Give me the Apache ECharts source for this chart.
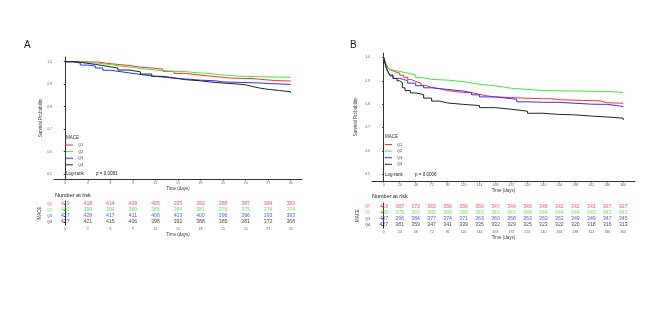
<!DOCTYPE html>
<html>
<head>
<meta charset="utf-8">
<script src="https://cdn.jsdelivr.net/npm/echarts@6/dist/echarts.min.js"></script>
<style>
  html, body { margin: 0; padding: 0; background: #fff; }
  #chart { width: 669px; height: 327px; }
</style>
</head>
<body>
<div id="chart"></div>
<script>
// ---- data ----
const groups = ['Q1', 'Q2', 'Q3', 'Q4'];
const colors = ['#ff2f2f', '#3ee83e', '#2f2fff', '#222222'];
const yTicks = [0.5, 0.6, 0.7, 0.8, 0.9, 1.0];

// panel A (30 days)
const ticksA = [0, 3, 6, 9, 12, 15, 18, 21, 24, 27, 30];
const survA_Q1 = [[0,1],[1.5,0.998],[4.5,0.993],[5.5,0.988],[7,0.983],[8.5,0.976],[10,0.972],[11.5,0.967],[13,0.957],[14.5,0.948],[16,0.942],[17.5,0.937],[19,0.932],[20.5,0.927],[22,0.925],[25,0.92],[26.5,0.916],[28,0.914],[30,0.914]];
const survA_Q2 = [[0,1],[2,0.996],[3,0.993],[4.5,0.987],[6,0.98],[7.5,0.975],[9,0.968],[10.5,0.963],[12,0.958],[14,0.956],[16,0.951],[17.5,0.948],[19,0.942],[20.5,0.936],[23,0.933],[26,0.931],[30,0.93]];
const survA_Q3 = [[0,1],[1,0.994],[2,0.985],[3,0.981],[4,0.972],[5,0.962],[6,0.955],[7.5,0.948],[9,0.941],[10.5,0.935],[12,0.93],[13.5,0.925],[15,0.922],[16.5,0.918],[18,0.915],[20,0.91],[21,0.906],[25.5,0.903],[27,0.899],[30,0.899]];
const survA_Q4 = [[0,1],[1.5,0.995],[2.5,0.988],[4,0.983],[5,0.977],[6,0.972],[7,0.963],[8.5,0.955],[10,0.945],[11.5,0.935],[13,0.928],[14.5,0.92],[16,0.915],[18,0.909],[19.5,0.905],[21,0.902],[22.5,0.897],[24,0.889],[25,0.882],[26,0.877],[27,0.872],[28.5,0.866],[30,0.862]];
const riskA_Q1 = [419, 418, 414, 409, 405, 395, 392, 388, 387, 384, 383];
const riskA_Q2 = [402, 399, 394, 389, 385, 384, 381, 376, 375, 374, 374];
const riskA_Q3 = [437, 429, 417, 411, 406, 403, 400, 396, 396, 393, 393];
const riskA_Q4 = [427, 421, 415, 406, 398, 392, 388, 385, 381, 372, 368];

// panel B (360 days)
const ticksB = [0, 24, 48, 72, 96, 120, 144, 168, 192, 216, 240, 264, 288, 312, 336, 360];
const survB_Q1 = [[0,1],[2,0.985],[4,0.97],[6,0.958],[9,0.948],[12,0.94],[16,0.933],[24,0.924],[30,0.915],[36,0.905],[42,0.897],[48,0.89],[56,0.88],[64,0.872],[72,0.866],[84,0.858],[96,0.85],[120,0.849],[132,0.842],[144,0.835],[156,0.831],[168,0.828],[192,0.826],[210,0.823],[240,0.823],[252,0.819],[264,0.816],[300,0.815],[312,0.814],[325,0.806],[336,0.804],[360,0.804]];
const survB_Q2 = [[0,1],[2,0.98],[4,0.965],[7,0.952],[10,0.945],[15,0.94],[24,0.933],[36,0.925],[48,0.913],[60,0.906],[72,0.903],[96,0.896],[120,0.891],[132,0.885],[144,0.878],[168,0.873],[180,0.868],[192,0.863],[216,0.858],[240,0.856],[300,0.855],[312,0.853],[345,0.852],[352,0.849],[360,0.848]];
const survB_Q3 = [[0,1],[2,0.975],[4,0.955],[7,0.935],[10,0.92],[14,0.91],[24,0.906],[30,0.9],[36,0.89],[48,0.879],[60,0.87],[72,0.863],[96,0.856],[120,0.849],[132,0.84],[144,0.831],[168,0.824],[190,0.821],[200,0.81],[216,0.808],[240,0.808],[264,0.805],[280,0.8],[312,0.799],[336,0.794],[350,0.79],[360,0.789]];
const survB_Q4 = [[0,1],[2,0.975],[4,0.955],[6,0.94],[9,0.925],[14,0.91],[20,0.9],[24,0.892],[28,0.87],[32,0.858],[40,0.848],[48,0.841],[60,0.826],[72,0.813],[84,0.805],[96,0.799],[120,0.794],[144,0.785],[168,0.778],[192,0.77],[216,0.761],[240,0.756],[264,0.754],[288,0.749],[312,0.745],[336,0.74],[360,0.733]];
const riskB_Q1 = [419, 387, 373, 363, 356, 356, 350, 347, 346, 345, 345, 342, 342, 341, 337, 337];
const riskB_Q2 = [402, 375, 367, 363, 360, 358, 353, 351, 347, 345, 344, 344, 344, 343, 343, 341];
const riskB_Q3 = [437, 396, 384, 377, 374, 371, 363, 360, 358, 353, 353, 352, 349, 349, 347, 345];
const riskB_Q4 = [427, 381, 359, 347, 341, 339, 335, 332, 329, 325, 323, 322, 320, 318, 316, 313];

const survA = [survA_Q1, survA_Q2, survA_Q3, survA_Q4];
const survB = [survB_Q1, survB_Q2, survB_Q3, survB_Q4];
const riskA = [riskA_Q1, riskA_Q2, riskA_Q3, riskA_Q4];
const riskB = [riskB_Q1, riskB_Q2, riskB_Q3, riskB_Q4];

const FONT = 'Liberation Sans, Arial, sans-serif';
const axisCol = '#333';
const labelCol = '#666';

let myChart = echarts.init(document.getElementById('chart'));

// 曲线坐标轴
function plotX(idx, min, max, ticks) {
    return {
        gridIndex: idx, type: 'value', min: min, max: max,
        name: 'Time (days)', nameLocation: 'middle', nameGap: 6,
        nameTextStyle: { fontSize: 4.5, color: '#444', fontFamily: FONT },
        axisLine: { lineStyle: { color: axisCol, width: 1 } },
        axisTick: { customValues: ticks, length: 1.5, lineStyle: { color: axisCol } },
        axisLabel: { customValues: ticks, fontSize: 3.5, margin: 2, color: labelCol, fontFamily: FONT },
        splitLine: { show: false }
    };
}
function plotY(idx, min, max, gap) {
    return {
        gridIndex: idx, type: 'value', min: min, max: max,
        name: 'Survival Probability', nameLocation: 'middle', nameGap: gap,
        nameTextStyle: { fontSize: 4.5, color: '#444', fontFamily: FONT },
        axisLine: { show: true, lineStyle: { color: axisCol, width: 1 } },
        axisTick: { show: true, customValues: yTicks, length: 1.5, lineStyle: { color: axisCol } },
        axisLabel: { customValues: yTicks, fontSize: 3.5, margin: 2, color: labelCol, fontFamily: FONT,
            formatter: function (v) { return v.toFixed(1); } },
        splitLine: { show: false }
    };
}
// 风险表坐标轴
function tableX(idx, min, max, ticks) {
    let a = plotX(idx, min, max, ticks);
    a.nameGap = 7;
    return a;
}
function tableY(idx) {
    return {
        gridIndex: idx, type: 'category', data: groups, inverse: true,
        name: 'MACE', nameLocation: 'middle', nameGap: 12,
        nameTextStyle: { fontSize: 4.5, color: '#444', fontFamily: FONT },
        axisLine: { show: true, lineStyle: { color: axisCol, width: 1 } },
        axisTick: { show: true, alignWithLabel: true, interval: 0, length: 1.5, lineStyle: { color: axisCol } },
        axisLabel: { interval: 0, fontSize: 3.5, margin: 2, fontFamily: FONT,
            color: function (v, i) { return colors[groups.indexOf(v)]; } }
    };
}

let series = [];
groups.forEach(function (g, i) {
    series.push({ name: g, type: 'line', step: 'end', xAxisIndex: 0, yAxisIndex: 0,
        data: survA[i], showSymbol: false, lineStyle: { width: 1, color: colors[i] }, itemStyle: { color: colors[i] } });
    series.push({ name: g, type: 'line', step: 'end', xAxisIndex: 2, yAxisIndex: 2,
        data: survB[i], showSymbol: false, lineStyle: { width: 1, color: colors[i] }, itemStyle: { color: colors[i] } });
    series.push({ name: g, type: 'scatter', xAxisIndex: 1, yAxisIndex: 1, symbolSize: 1,
        itemStyle: { color: 'transparent' },
        data: ticksA.map(function (t, k) { return [t, g, riskA[i][k]]; }),
        label: { show: true, position: 'inside', formatter: function (p) { return p.value[2]; },
            fontSize: 5.2, color: colors[i], fontFamily: FONT } });
    series.push({ name: g, type: 'scatter', xAxisIndex: 3, yAxisIndex: 3, symbolSize: 1,
        itemStyle: { color: 'transparent' },
        data: ticksB.map(function (t, k) { return [t, g, riskB[i][k]]; }),
        label: { show: true, position: 'inside', formatter: function (p) { return p.value[2]; },
            fontSize: 5.2, color: colors[i], fontFamily: FONT } });
});

function txt(x, y, s, size, color) {
    return { type: 'text', x: x, y: y,
        style: { text: s, fontSize: size, fill: color || '#222', fontFamily: FONT, verticalAlign: 'middle' } };
}

let legendBase = {
    orient: 'vertical', itemWidth: 7, itemHeight: 1, itemGap: 1.6, icon: 'rect', padding: 0,
    textStyle: { fontSize: 4, lineHeight: 5, color: '#444', fontFamily: FONT },
    data: groups
};

let option = {
    animation: false,
    backgroundColor: '#fff',
    grid: [
        { left: 54, top: 57, width: 248, height: 122 },
        { left: 54, top: 201, width: 248, height: 24 },
        { left: 372, top: 53, width: 263, height: 128 },
        { left: 372, top: 203, width: 263, height: 25 }
    ],
    xAxis: [
        plotX(0, -1.5, 31.5, ticksA),
        tableX(1, -1.5, 31.5, ticksA),
        plotX(2, -17.6, 377.6, ticksB),
        tableX(3, -17.6, 377.6, ticksB)
    ],
    yAxis: [
        plotY(0, 0.478, 1.021, 10),
        tableY(1),
        plotY(2, 0.471, 1.019, 14),
        tableY(3)
    ],
    legend: [
        Object.assign({ left: 66, top: 142.5 }, legendBase),
        Object.assign({ left: 385, top: 142 }, legendBase)
    ],
    graphic: [
        txt(24, 45, 'A', 10),
        txt(350, 45, 'B', 10),
        txt(66, 138, 'MACE', 4.5, '#333'),
        txt(385, 137, 'MACE', 4.5, '#333'),
        txt(66, 174, 'Log-rank', 4.5),
        txt(96, 174, 'p = 0.0081', 4.5),
        txt(385, 174.5, 'Log-rank', 4.5),
        txt(415, 174.5, 'p = 0.0006', 4.5),
        txt(55, 195, 'Number at risk', 5.5),
        txt(372, 196.5, 'Number at risk', 5.5)
    ],
    series: series
};
myChart.setOption(option);
</script>
</body>
</html>
